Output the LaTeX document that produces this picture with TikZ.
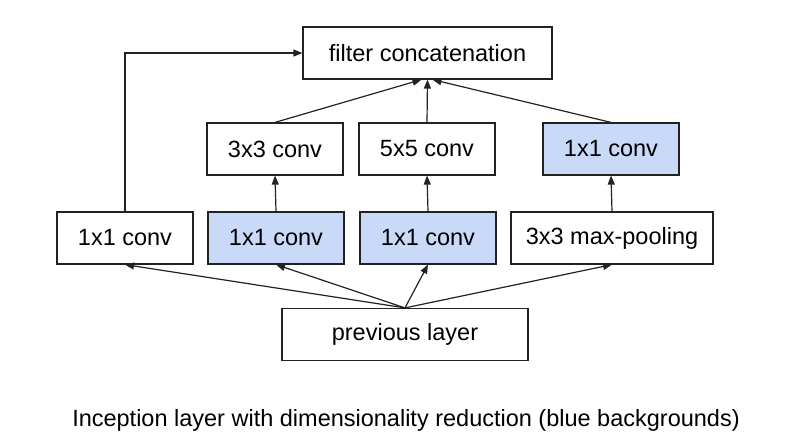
\documentclass[tikz,border=0pt]{standalone}
\usepackage{fontspec}
\setmainfont{Liberation Sans}
\usetikzlibrary{arrows.meta}
\definecolor{bluebg}{HTML}{C9DAF8}
\definecolor{edge}{HTML}{222222}
\begin{document}
\begin{tikzpicture}[x=1pt,y=-1pt,
  box/.style={draw=edge,line width=1.2pt,minimum height=52pt,inner sep=0pt,
    font=\fontsize{23.5}{28}\selectfont,anchor=center},
  hl/.style={box,fill=bluebg},
  arr/.style={-{Triangle[length=9pt,width=7pt]},line width=1.2pt,draw=edge}]
\useasboundingbox (0,0) rectangle (812,447);
\node[box,minimum width=249pt] (fc) at (427.5,53) {filter concatenation};
\node[box,minimum width=136pt] (c33) at (275,149) {3x3 conv};
\node[box,minimum width=136pt] (c55) at (427,149) {5x5 conv};
\node[hl,minimum width=136pt] (c11c) at (611,149) {1x1 conv};
\node[box,minimum width=136pt] (c11a) at (125,238) {1x1 conv};
\node[hl,minimum width=136pt] (r1) at (276,238) {1x1 conv};
\node[hl,minimum width=136pt] (r2) at (428,238) {1x1 conv};
\node[box,minimum width=202pt] (mp) at (612,238) {3x3 max-pooling};
\node[box,minimum width=246pt] (prev) at (405,334.5) {previous layer};
\node[font=\fontsize{23.5}{28}\selectfont] (cap) at (406,420) {Inception layer with dimensionality reduction (blue backgrounds)};
\coordinate (src) at (prev.north);
\draw[arr] (src) -- (c11a.south);
\draw[arr] (src) -- (r1.south);
\draw[arr] (src) -- (r2.south);
\draw[arr] (src) -- (mp.south);
\draw[arr] (r1.north) -- (c33.south);
\draw[arr] (r2.north) -- (c55.south);
\draw[arr] (mp.north) -- (c11c.south);
\draw[arr] (c33.north) -- ([xshift=-6pt]fc.south);
\draw[arr] (c55.north) -- (fc.south);
\draw[arr] (c11c.north) -- ([xshift=5pt]fc.south);
\draw[arr] (c11a.north) |- (fc.west);
\end{tikzpicture}
\end{document}
